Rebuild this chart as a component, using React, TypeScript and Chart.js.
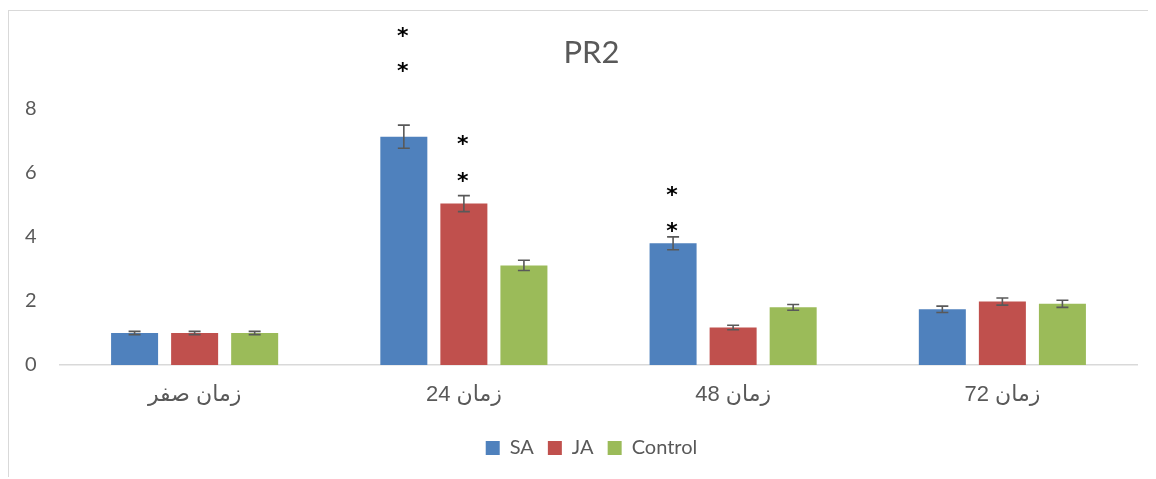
import React, { useEffect, useRef } from "react";
import { Chart, registerables } from "chart.js";

Chart.register(...registerables);

const categories = ["زمان صفر", "زمان 24", "زمان 48", "زمان 72"];
const seriesNames = ["SA", "JA", "Control"];
const saValues = [1.0, 7.13, 3.8, 1.74];
const jaValues = [1.0, 5.04, 1.17, 1.98];
const controlValues = [1.0, 3.11, 1.8, 1.91];
const saErrors = [0.05, 0.36, 0.2, 0.1];
const jaErrors = [0.05, 0.25, 0.07, 0.11];
const controlErrors = [0.05, 0.16, 0.09, 0.11];
const seriesColors = ["#4F81BD", "#C0504D", "#9BBB59"];
// significance asterisks: dataset index, category index, y value of asterisk centre
const starDataset = [0, 0, 1, 1, 0, 0];
const starCategory = [1, 1, 1, 1, 2, 2];
const starValue = [9.28, 10.38, 5.85, 7.0, 4.28, 5.41];

const FONT = "Lato, 'DejaVu Sans', sans-serif";
const CAT_FONT = "'Liberation Sans', 'DejaVu Sans', sans-serif";
const TEXT = "#595959";

const errorBarPlugin = {
  id: "errorBars",
  afterDatasetsDraw(chart: any) {
    const ctx = chart.ctx;
    const y = chart.scales.y;
    const errs = [saErrors, jaErrors, controlErrors];
    const vals = [saValues, jaValues, controlValues];
    ctx.save();
    ctx.strokeStyle = TEXT;
    ctx.lineWidth = 1.6;
    for (let d = 0; d < 3; d++) {
      const meta = chart.getDatasetMeta(d);
      meta.data.forEach((bar: any, i: number) => {
        const x = bar.x;
        const top = y.getPixelForValue(vals[d][i] + errs[d][i]);
        const bot = y.getPixelForValue(vals[d][i] - errs[d][i]);
        ctx.beginPath();
        ctx.moveTo(x, top);
        ctx.lineTo(x, bot);
        ctx.moveTo(x - 6, top);
        ctx.lineTo(x + 6, top);
        ctx.moveTo(x - 6, bot);
        ctx.lineTo(x + 6, bot);
        ctx.stroke();
      });
    }
    ctx.fillStyle = "#000000";
    ctx.font = "bold 22px 'DejaVu Sans', sans-serif";
    ctx.textAlign = "center";
    ctx.textBaseline = "alphabetic";
    for (let k = 0; k < starValue.length; k++) {
      const bar = chart.getDatasetMeta(starDataset[k]).data[starCategory[k]];
      const py = y.getPixelForValue(starValue[k]);
      ctx.fillText("*", bar.x - 1, py + 10);
    }
    ctx.restore();
  },
};

export default function App() {
  const ref = useRef<HTMLCanvasElement>(null);
  useEffect(() => {
    document.body.style.overflow = "hidden";
    const L = 37;
    const chart = new Chart(ref.current as HTMLCanvasElement, {
      type: "bar",
      data: {
        labels: categories,
        datasets: [saValues, jaValues, controlValues].map((v, i) => ({
          label: seriesNames[i],
          data: v,
          backgroundColor: seriesColors[i],
          barPercentage: 0.783,
          categoryPercentage: 0.669,
        })),
      },
      options: {
        responsive: false,
        animation: false,
        layout: { padding: { left: L, right: 19, top: 0, bottom: 11 } },
        plugins: {
          title: {
            display: true,
            text: "PR2",
            color: TEXT,
            font: { family: FONT, size: 31, weight: "normal" },
            padding: { top: 23.6, bottom: 5 },
          },
          legend: {
            position: "bottom",
            labels: {
              color: TEXT,
              font: { family: FONT, size: 20 },
              boxWidth: 14,
              boxHeight: 14,
              padding: 14,
            },
          },
          tooltip: { enabled: false },
        },
        scales: {
          x: {
            grid: { display: false },
            border: { display: true, color: "#d9d9d9", width: 1.5 },
            ticks: { color: TEXT, font: { family: CAT_FONT, size: 22 }, padding: 9 },
            afterFit: (s: any) => {
              s.height = 59;
            },
          },
          y: {
            min: 0,
            max: 9,
            grid: { display: false },
            border: { display: false },
            ticks: {
              stepSize: 2,
              mirror: true,
              padding: -35,
              color: TEXT,
              font: { family: FONT, size: 20 },
              callback: (v: any) => (Number(v) % 2 === 0 ? String(v) : ""),
            },
            afterFit: (s: any) => {
              s.width = 51 - L;
            },
          },
        },
      },
      plugins: [errorBarPlugin],
    } as any);
    return () => chart.destroy();
  }, []);
  return (
    <div
      style={{
        position: "relative",
        top: 2,
        width: 1147,
        borderLeft: "1px solid #d9d9d9",
        borderTop: "1px solid #d9d9d9",
      }}
    >
      <canvas ref={ref} width={1147} height={468} style={{ display: "block" }} />
    </div>
  );
}
